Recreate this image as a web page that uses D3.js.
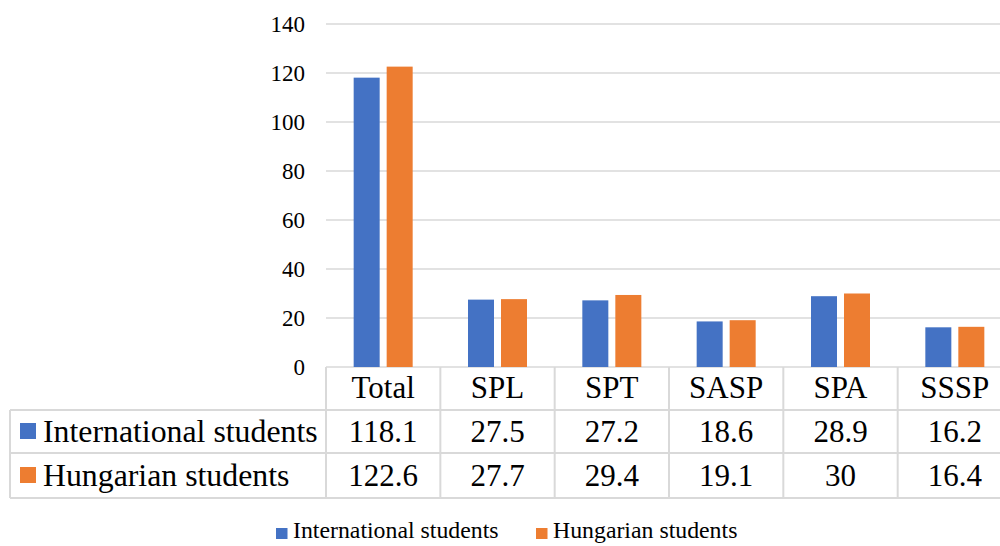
<!DOCTYPE html>
<html>
<head>
<meta charset="UTF-8">
<title>Students chart</title>
<style>
  body { margin: 0; background: #fff; }
  svg text { font-family: "Liberation Serif", "DejaVu Serif", serif; fill: #000; }
</style>
<script src="https://cdn.jsdelivr.net/npm/d3@7"></script>
</head>
<body>
<div id="chart"></div>
<script>
const categories = ["Total", "SPL", "SPT", "SASP", "SPA", "SSSP"];
const seriesNames = ["International students", "Hungarian students"];
const international = [118.1, 27.5, 27.2, 18.6, 28.9, 16.2];
const hungarian = [122.6, 27.7, 29.4, 19.1, 30, 16.4];
const yTicks = [0, 20, 40, 60, 80, 100, 120, 140];
const colors = ["#4472C4", "#ED7D31"];

const W = 1000, H = 546;
const plot = { left: 326, right: 1012, top: 24, bottom: 367 };
const gridColor = "#d9d9d9";
const serif = '"Liberation Serif", "Times New Roman", serif';

const svg = d3.select("#chart").append("svg")
  .attr("width", W).attr("height", H)
  .attr("font-family", serif);

const x = d3.scaleBand().domain(categories).range([plot.left, plot.right]);
const y = d3.scaleLinear().domain([0, 140]).range([plot.bottom, plot.top]);

// gridlines
svg.append("g").selectAll("line")
  .data(yTicks)
  .enter().append("line")
    .attr("x1", plot.left).attr("x2", plot.right)
    .attr("y1", d => y(d)).attr("y2", d => y(d))
    .attr("stroke", gridColor).attr("stroke-width", 1.3);

// y tick labels
svg.append("g").selectAll("text")
  .data(yTicks)
  .enter().append("text")
    .attr("x", 305)
    .attr("y", d => y(d) + 8)
    .attr("text-anchor", "end")
    .style("font-size", "23px")
    .text(d => d);

// bars
const barW = 26, barGap = 7;
const series = [international, hungarian];
series.forEach((vals, s) => {
  svg.append("g").selectAll("rect")
    .data(vals)
    .enter().append("rect")
      .attr("x", (d, i) => x(categories[i]) + x.bandwidth() / 2 - barW - barGap / 2 + s * (barW + barGap))
      .attr("y", d => y(d))
      .attr("width", barW)
      .attr("height", d => y(0) - y(d))
      .attr("fill", colors[s]);
});

// data table
const rowY = [367, 410, 453, 498];
const tableLeft = 10;
const t = svg.append("g");

[1, 2, 3].forEach(r => {
  t.append("line").attr("x1", tableLeft).attr("x2", plot.right)
    .attr("y1", rowY[r]).attr("y2", rowY[r]);
});
t.append("line").attr("x1", tableLeft).attr("x2", tableLeft)
  .attr("y1", rowY[1]).attr("y2", rowY[3]);
t.selectAll(".vline")
  .data(categories.concat(["_end"]))
  .enter().append("line")
    .attr("class", "vline")
    .attr("x1", (d, i) => plot.left + i * x.bandwidth())
    .attr("x2", (d, i) => plot.left + i * x.bandwidth())
    .attr("y1", rowY[0]).attr("y2", rowY[3]);
t.selectAll("line").attr("stroke", gridColor).attr("stroke-width", 2);

// category header
t.selectAll(".cat")
  .data(categories)
  .enter().append("text")
    .attr("class", "cat")
    .attr("x", d => x(d) + x.bandwidth() / 2)
    .attr("y", 398)
    .attr("text-anchor", "middle")
    .style("font-size", "31px")
    .text(d => d);

// rows
const rowBase = [442, 486];
series.forEach((vals, s) => {
  t.append("rect")
    .attr("x", 20).attr("y", rowBase[s] - 19)
    .attr("width", 16).attr("height", 16)
    .attr("fill", colors[s]);
  t.append("text")
    .attr("x", 43).attr("y", rowBase[s])
    .style("font-size", "31.8px")
    .text(seriesNames[s]);
  t.selectAll(".val" + s)
    .data(vals)
    .enter().append("text")
      .attr("class", "val" + s)
      .attr("x", (d, i) => x(categories[i]) + x.bandwidth() / 2)
      .attr("y", rowBase[s])
      .attr("text-anchor", "middle")
      .style("font-size", "31px")
      .text(d => d);
});

// bottom legend
const legend = svg.append("g");
const legX = [276, 536];
seriesNames.forEach((name, s) => {
  legend.append("rect")
    .attr("x", legX[s]).attr("y", 528)
    .attr("width", 11.5).attr("height", 11)
    .attr("fill", colors[s]);
  legend.append("text")
    .attr("x", legX[s] + 17).attr("y", 538)
    .style("font-size", "23.8px")
    .text(name);
});
</script>
</body>
</html>
